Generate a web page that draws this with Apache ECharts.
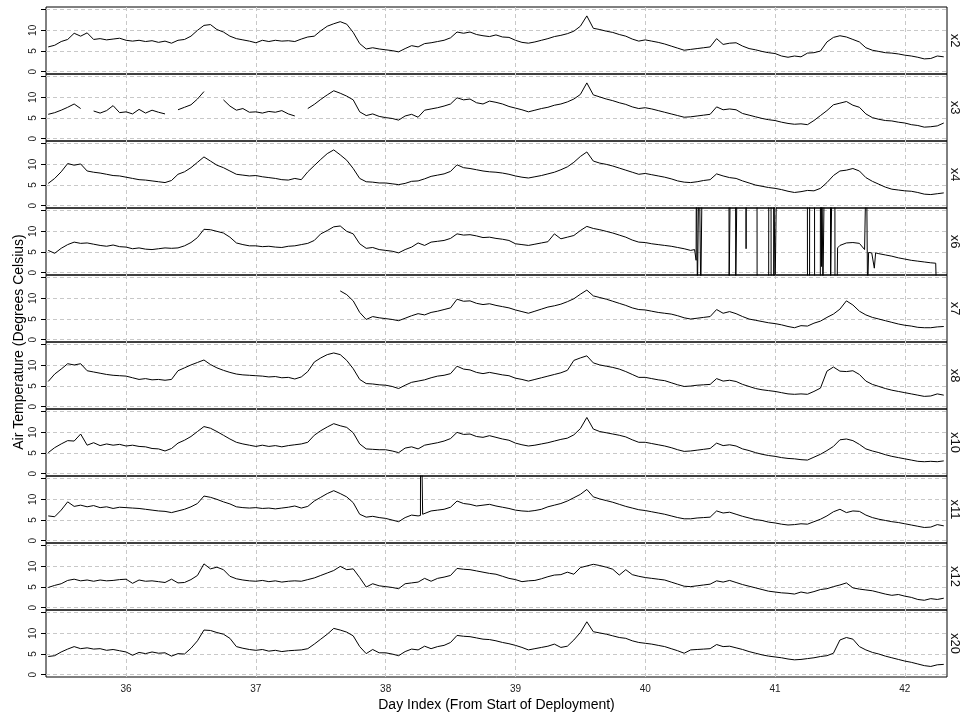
<!DOCTYPE html>
<html><head><meta charset="utf-8">
<script src="https://cdn.jsdelivr.net/npm/echarts@6/dist/echarts.min.js"></script>
<style>html,body{margin:0;padding:0;background:#fff;overflow:hidden}#c{width:961px;height:715px}</style>
</head><body><div id="c"></div>
<script>
// Sample times (day index)
const days = [
35.40,35.45,35.50,35.55,35.60,35.65,35.70,35.75,35.80,35.85,35.90,35.95,
36.00,36.05,36.10,36.15,36.20,36.25,36.30,36.35,36.40,36.45,36.50,36.55,36.60,36.65,36.70,36.75,36.80,36.85,36.90,36.95,
37.00,37.05,37.10,37.15,37.20,37.25,37.30,37.35,37.40,37.45,37.50,37.55,37.60,37.65,37.70,37.75,37.80,37.85,37.90,37.95,
38.00,38.05,38.10,38.15,38.20,38.25,38.30,38.35,38.40,38.45,38.50,38.55,38.60,38.65,38.70,38.75,38.80,38.85,38.90,38.95,
39.00,39.05,39.10,39.15,39.20,39.25,39.30,39.35,39.40,39.45,39.50,39.55,39.60,39.65,39.70,39.75,39.80,39.85,39.90,39.95,
40.00,40.05,40.10,40.15,40.20,40.25,40.30,40.35,40.40,40.45,40.50,40.55,40.60,40.65,40.70,40.75,40.80,40.85,40.90,40.95,
41.00,41.05,41.10,41.15,41.20,41.25,41.30,41.35,41.40,41.45,41.50,41.55,41.60,41.65,41.70,41.75,41.80,41.85,41.90,41.95,
42.00,42.05,42.10,42.15,42.20,42.25,42.30];

const x2 = [
6.0,6.4,7.3,7.8,9.3,8.6,9.4,7.8,8.0,7.7,7.9,8.1,
7.6,7.4,7.6,7.3,7.5,7.1,7.4,6.9,7.6,7.8,8.6,10.0,11.2,11.4,10.2,9.6,8.6,8.0,7.7,7.4,
7.0,7.6,7.3,7.6,7.4,7.5,7.3,7.9,8.4,8.6,9.9,11.0,11.6,12.1,11.5,9.5,6.8,5.5,5.8,5.5,
5.3,5.1,4.8,5.6,6.3,6.0,6.8,7.0,7.3,7.6,8.2,9.6,9.3,9.6,9.0,8.7,8.5,8.9,8.4,8.3,
7.6,7.1,6.9,7.2,7.6,8.0,8.5,8.8,9.2,9.8,11.0,13.5,10.5,10.2,9.8,9.5,9.0,8.6,7.9,7.4,
7.7,7.4,7.1,6.7,6.2,5.7,5.2,5.4,5.6,5.8,6.0,8.0,6.6,6.9,7.0,6.2,5.6,5.3,4.9,4.6,
4.4,3.8,3.5,3.8,3.6,4.5,4.6,5.0,7.2,8.3,8.7,8.4,7.8,7.2,5.8,5.2,4.9,4.6,4.5,4.3,
4.0,3.8,3.5,3.1,3.2,3.8,3.6];

const x3 = [
5.9,6.3,6.9,7.6,8.4,7.3,null,6.7,6.2,6.8,8.0,6.3,
6.5,6.0,7.1,6.2,6.9,6.4,6.0,null,7.0,7.6,8.2,9.6,11.4,null,null,9.4,7.9,6.9,7.3,6.4,
6.5,6.2,6.6,6.4,6.8,6.0,5.5,null,7.3,8.3,9.5,10.6,11.6,11.0,10.3,9.4,6.5,5.6,6.0,5.4,
5.1,4.9,4.5,5.5,5.9,5.2,6.9,7.2,7.5,7.9,8.4,9.9,9.4,9.6,8.7,8.4,9.1,8.8,8.4,7.8,
7.4,7.0,6.5,6.9,7.3,7.6,8.1,8.4,8.9,9.6,10.7,13.5,10.6,10.1,9.6,9.2,8.7,8.3,7.7,7.3,
7.5,7.2,6.8,6.4,6.0,5.6,5.2,5.3,5.5,5.7,5.9,7.7,7.0,7.2,7.0,6.1,5.7,5.3,4.9,4.6,
4.4,4.0,3.7,3.5,3.6,3.4,4.4,5.6,6.8,8.2,8.6,9.0,8.1,7.6,6.0,5.1,4.7,4.4,4.3,4.0,
3.8,3.4,3.2,2.8,2.9,3.1,3.8];

const x4 = [
5.4,6.6,8.2,10.2,9.8,10.1,8.4,8.1,7.9,7.6,7.3,7.2,
6.9,6.6,6.3,6.2,6.0,5.8,5.6,6.1,7.6,8.2,9.2,10.5,11.8,10.8,9.8,9.2,8.4,7.6,7.4,7.2,
7.3,7.0,6.8,6.6,6.3,6.2,6.6,6.3,8.2,9.7,11.2,12.6,13.5,12.3,11.0,9.0,6.6,5.8,5.7,5.5,
5.5,5.3,5.1,5.4,5.9,6.0,6.5,7.1,7.4,7.7,8.3,9.9,9.2,9.0,8.7,8.4,8.2,8.1,7.9,7.6,
7.2,6.9,6.7,7.0,7.3,7.7,8.1,8.7,9.4,10.5,11.9,13.0,10.8,10.3,10.0,9.6,9.1,8.6,8.1,7.6,
7.8,7.5,7.2,6.9,6.5,6.0,5.7,5.6,5.8,6.1,6.3,7.7,7.2,6.8,6.6,6.0,5.5,5.0,4.7,4.4,
4.2,3.9,3.5,3.2,3.4,3.7,3.6,4.2,5.6,7.3,8.4,8.6,9.0,8.4,6.8,5.9,5.2,4.5,4.0,3.8,
3.6,3.5,3.2,2.8,2.7,2.9,3.1];

const x6 = [
5.4,4.7,5.9,6.8,7.4,7.1,7.2,6.9,6.6,6.4,6.7,6.3,
6.2,5.8,6.0,5.7,5.6,5.8,6.0,5.9,6.0,6.5,7.3,8.5,10.5,10.4,10.0,9.6,8.6,7.2,6.8,6.5,
6.5,6.3,6.4,6.2,6.1,6.4,6.5,6.8,7.1,7.8,9.4,10.2,11.1,11.3,10.0,9.4,7.0,5.9,6.1,5.6,
5.4,5.2,4.8,5.6,6.2,7.2,6.6,7.4,7.6,7.8,8.3,9.4,9.1,9.2,8.9,8.5,8.6,8.3,8.1,7.8,
7.0,6.8,6.6,6.9,7.2,7.5,9.4,8.2,8.6,9.0,10.2,11.2,10.7,10.4,10.0,9.6,9.1,8.6,7.9,7.4,
7.3,7.0,6.8,6.6,6.4,6.1,5.8,5.4,null,null,null,null,null,null,null,null,null,null,null,null,
null,null,null,null,null,null,null,null,null,null,6.6,7.2,7.3,7.1,null,null,4.6,4.3,4.0,3.6,
3.3,3.0,2.8,2.6,2.4,-5,-5];
// x6 sensor fault readings (off-scale highs / lows)
const x6FaultDays = [40.380,40.392,40.394,40.401,40.402,40.414,40.415,40.427,40.428,40.440,40.441,40.645,40.646,40.657,40.658,40.696,40.697,40.709,40.710,40.776,40.777,40.778,40.861,40.862,40.951,40.952,40.969,40.970,40.989,40.990,40.999,41.000,41.014,41.015,41.249,41.250,41.266,41.267,41.304,41.305,41.349,41.350,41.356,41.358,41.360,41.368,41.369,41.381,41.382,41.427,41.428,41.440,41.441,41.461,41.462,41.478,41.482,41.690,41.704,41.712,41.713,41.718,41.721,41.745,41.765,41.775,42.238,42.244];
const x6FaultVals = [5.6,3.0,30,30,-5,-5,30,30,-5,-5,30,30,-5,-5,30,30,-5,-5,30,30,5.8,30,30,-5,-5,30,30,-5,-5,30,30,-5,-5,30,30,-5,-5,30,30,-5,-5,30,30,1.5,30,30,-5,-5,30,30,-5,-5,30,30,-5,-5,6.0,5.6,30,30,-5,-5,4.9,4.8,1.1,4.8,2.3,-5];

const x7 = [
null,null,null,null,null,null,null,null,null,null,null,null,
null,null,null,null,null,null,null,null,null,null,null,null,null,null,null,null,null,null,null,null,
null,null,null,null,null,null,null,null,null,null,null,null,null,11.8,10.9,9.4,6.6,4.9,5.6,5.3,
5.1,4.9,4.6,5.2,5.8,6.3,6.0,6.6,6.9,7.3,7.7,9.8,9.3,9.4,8.8,8.5,8.7,8.3,8.0,7.7,
7.2,6.8,6.4,6.9,7.4,7.9,8.2,8.6,9.2,9.9,11.0,12.0,10.6,10.2,9.8,9.3,8.8,8.3,7.7,7.3,
7.2,6.9,6.6,6.4,6.2,5.8,5.3,5.0,5.2,5.4,5.6,7.3,6.4,6.8,6.3,5.6,5.0,4.7,4.4,4.1,
3.9,3.6,3.2,2.9,3.4,3.3,4.0,4.5,5.4,6.2,7.4,9.4,8.4,6.9,6.0,5.4,5.0,4.6,4.2,3.8,
3.5,3.3,3.0,2.9,2.9,3.1,3.2];

const x8 = [
6.1,7.9,9.1,10.4,10.1,10.4,8.7,8.4,8.1,7.8,7.6,7.5,
7.4,7.0,6.6,6.8,6.5,6.6,6.4,6.6,8.7,9.4,10.1,10.7,11.3,10.2,9.4,8.8,8.3,7.9,7.7,7.6,
7.5,7.4,7.2,7.3,7.0,7.1,6.7,7.2,8.5,10.8,11.8,12.6,13.0,12.6,11.2,9.2,6.6,5.6,5.5,5.3,
5.2,4.9,4.4,5.2,5.9,6.2,6.5,7.0,7.4,7.6,8.0,9.8,9.1,8.9,8.3,8.0,8.3,8.0,7.7,7.5,
6.9,6.6,6.2,6.6,7.0,7.4,7.8,8.2,8.8,11.2,11.8,12.3,10.6,10.1,9.8,9.5,9.1,8.5,7.8,7.1,
7.1,6.8,6.5,6.3,5.8,5.3,4.9,5.0,5.2,5.3,5.4,6.8,6.2,6.4,6.1,5.4,4.9,4.4,4.1,3.9,
3.7,3.4,3.1,3.0,3.1,3.0,3.7,4.5,8.6,9.6,8.6,8.5,8.7,7.8,6.2,5.4,4.9,4.4,4.0,3.7,
3.4,3.1,2.8,2.5,2.6,3.1,2.8];

const x10 = [
5.1,6.3,7.2,8.0,7.9,9.6,6.9,7.5,6.8,7.2,6.9,7.1,
6.7,6.9,6.6,6.5,6.1,6.0,5.5,6.1,7.4,8.1,9.0,10.2,11.4,11.0,10.2,9.3,8.4,7.6,7.2,6.9,
6.6,6.9,6.6,6.8,6.5,6.8,7.0,7.2,7.6,9.3,10.4,11.3,12.1,11.6,11.2,9.9,7.2,6.0,5.9,5.8,
5.8,5.5,5.1,6.2,6.5,6.0,6.9,7.2,7.5,7.9,8.5,10.0,9.5,9.6,9.0,8.8,9.2,8.8,8.4,8.1,
7.4,7.0,6.7,6.9,7.2,7.5,7.9,8.3,8.6,9.4,10.9,13.6,10.8,10.2,9.9,9.6,9.3,8.9,8.2,7.6,
7.6,7.3,7.0,6.7,6.3,5.8,5.4,5.5,5.7,5.9,6.1,7.4,6.8,7.0,6.7,6.0,5.6,5.1,4.7,4.4,
4.2,3.9,3.7,3.6,3.4,3.3,4.0,4.7,5.6,6.6,8.2,8.4,8.0,7.1,6.0,5.5,5.1,4.6,4.2,3.9,
3.6,3.3,3.0,2.9,3.0,2.9,3.1];

const x11 = [
6.0,5.8,7.4,9.4,8.3,8.6,8.2,8.5,8.0,8.2,7.8,8.1,
8.0,7.9,7.8,7.6,7.4,7.2,7.1,6.8,7.2,7.6,8.2,9.0,10.8,10.5,10.0,9.4,8.9,8.2,8.0,7.9,
8.0,7.8,7.9,7.7,7.9,8.1,8.4,7.9,8.3,9.6,10.5,11.4,12.1,11.4,10.6,9.2,6.4,5.7,5.9,5.6,
5.4,5.0,4.6,5.6,6.2,6.0,6.7,7.2,7.4,7.6,8.1,9.6,9.0,8.8,8.4,8.6,8.8,8.4,8.1,7.8,
7.4,7.2,7.1,7.3,7.6,8.2,8.6,9.0,9.6,10.4,11.2,12.4,10.6,10.1,9.7,9.3,8.8,8.3,7.9,7.5,
7.3,7.0,6.7,6.4,6.0,5.6,5.3,5.3,5.5,5.6,5.7,7.2,6.7,6.9,6.4,5.9,5.5,5.1,4.9,4.5,
4.3,4.0,3.8,3.9,4.1,4.0,4.6,5.2,6.0,7.0,7.6,6.8,7.2,7.1,6.2,5.6,5.2,4.9,4.6,4.4,
4.1,3.8,3.5,3.2,3.3,3.9,3.6];
const x11SpikeDays = [38.268,38.270,38.283,38.285];
const x11SpikeVals = [6.1,40,40,6.4];

const x12 = [
4.9,5.4,5.8,6.6,6.9,6.5,6.7,6.4,6.7,6.5,6.6,6.8,
6.9,5.9,6.7,6.4,6.5,6.3,6.1,6.9,6.0,6.1,6.8,7.8,10.6,9.4,9.8,9.2,7.6,7.0,6.7,6.5,
6.4,6.6,6.3,6.5,6.2,6.4,6.5,6.4,6.8,7.2,7.8,8.4,9.0,10.0,9.2,9.4,7.3,5.0,5.8,5.3,
5.1,4.9,4.6,5.8,6.0,6.2,7.1,6.4,7.1,7.4,7.8,9.5,9.3,9.2,8.9,8.6,8.3,8.1,7.6,7.1,
6.8,6.3,6.5,6.6,7.0,7.5,7.9,8.0,8.6,8.1,9.7,10.1,10.5,10.2,9.8,9.3,7.9,9.2,8.0,7.6,
7.3,7.1,6.9,6.7,6.2,5.7,5.2,5.1,5.3,5.5,5.7,6.5,6.2,6.6,6.1,5.6,5.2,4.8,4.4,4.0,
3.8,3.6,3.5,3.3,3.8,3.5,3.9,4.4,4.6,5.1,5.5,6.0,4.8,4.5,4.3,4.1,3.7,3.3,3.0,3.2,
2.8,2.5,2.0,1.8,2.2,2.0,2.3];

const x20 = [
4.4,4.6,5.5,6.2,6.8,6.3,6.5,6.2,6.3,5.9,6.1,5.8,
5.5,4.7,5.4,5.1,5.5,5.2,5.3,4.5,5.1,5.0,6.4,8.2,10.8,10.7,10.2,9.8,8.8,6.8,6.4,6.1,
5.9,6.1,5.7,5.9,5.6,5.8,5.9,6.0,6.3,7.4,8.6,9.8,11.2,10.8,10.3,9.4,6.8,5.1,6.1,5.3,
5.3,5.0,4.6,5.6,6.2,6.0,6.9,6.3,6.8,7.1,7.8,9.5,9.3,9.2,8.9,8.6,8.5,8.2,7.8,7.5,
7.1,6.6,6.0,6.3,6.6,6.9,7.4,6.6,6.9,8.4,10.2,12.8,10.4,10.1,9.8,9.4,9.0,8.8,8.2,7.8,
7.6,7.4,7.1,6.8,6.3,5.8,5.2,6.0,6.1,6.2,6.3,7.3,6.8,6.9,6.5,6.1,5.6,5.2,4.8,4.5,
4.3,4.1,3.8,3.6,3.7,3.9,4.1,4.4,4.6,5.2,8.4,9.0,8.6,6.8,6.0,5.4,5.0,4.5,4.1,3.7,
3.3,3.0,2.6,2.2,2.0,2.4,2.5];

const panelNames = ['x2','x3','x4','x6','x7','x8','x10','x11','x12','x20'];
const xTicks = [36,37,38,39,40,41,42];
const yTicks = [0,5,10,15];
const yTickLabels = [0,5,10];
const xTitle = 'Day Index (From Start of Deployment)';
const yTitle = 'Air Temperature (Degrees Celsius)';

function toPairs(vals){ return days.map((d,i)=>[d, vals[i]==null ? '-' : vals[i]]); }
function merged(vals, exDays, exVals){
  const pts = [];
  days.forEach((d,i)=>{ if(vals[i]!=null) pts.push([d, vals[i]]); });
  exDays.forEach((d,i)=>pts.push([d, exVals[i]]));
  pts.sort((a,b)=>a[0]-b[0]);
  return pts;
}
const seriesData = [
  toPairs(x2), toPairs(x3), toPairs(x4),
  merged(x6, x6FaultDays, x6FaultVals),
  toPairs(x7), toPairs(x8), toPairs(x10),
  merged(x11, x11SpikeDays, x11SpikeVals),
  toPairs(x12), toPairs(x20)
];

const chart = echarts.init(document.getElementById('c'));
const P = {top:7, h:67, left:46, right:14};
const xMin = 35.383, xMax = 42.325, yMin = -0.55, yMax = 15.65;
const grids=[], xAxes=[], yAxes=[], series=[], rightAxes=[];
const n = panelNames.length;
panelNames.forEach((name,i)=>{
  const bottom = i===n-1;
  grids.push({left:P.left, right:P.right, top:P.top+i*P.h, height:P.h, show:true, borderColor:'#000', borderWidth:1, backgroundColor:'transparent', containLabel:false, outerBoundsMode:'none'});
  xAxes.push({type:'value', gridIndex:i, min:xMin, max:xMax,
    axisLine:{show:false},
    axisTick:{show:false, customValues:xTicks},
    axisLabel:{show:bottom, customValues:xTicks, fontSize:10, color:'#222', margin:7},
    splitLine:{show:true, lineStyle:{color:'#c8c8c8', width:1, type:[4,3]}}});
  yAxes.push({type:'value', gridIndex:i, min:yMin, max:yMax,
    axisLine:{show:false},
    axisTick:{show:true, customValues:yTicks, length:5, lineStyle:{color:'#000'}},
    axisLabel:{show:true, customValues:yTickLabels, rotate:90, fontSize:10, color:'#222', margin:8},
    splitLine:{show:true, lineStyle:{color:'#c8c8c8', width:1, type:[4,3]}}});
  rightAxes.push({type:'value', gridIndex:i, position:'right', min:yMin, max:yMax,
    name:name, nameLocation:'middle', nameRotate:-90, nameGap:1,
    nameTextStyle:{fontSize:13, color:'#111'},
    axisLine:{show:false}, axisTick:{show:false}, axisLabel:{show:false}, splitLine:{show:false}});
  series.push({type:'line', xAxisIndex:i, yAxisIndex:i, data:seriesData[i],
    showSymbol:false, symbol:'none', clip:true, connectNulls:false,
    lineStyle:{color:'#000', width:1}, animation:false});
});
grids.push({left:P.left, right:P.right, top:P.top, height:P.h*n, show:false, containLabel:false, outerBoundsMode:'none'});
xAxes.push({type:'value', gridIndex:n, min:0, max:1, name:xTitle, nameLocation:'middle', nameGap:21,
  nameTextStyle:{fontSize:14, color:'#000'},
  axisLine:{show:false}, axisTick:{show:false}, axisLabel:{show:false}, splitLine:{show:false}});
const allY = yAxes.concat(rightAxes);
allY.push({type:'value', gridIndex:n, min:0, max:1, name:yTitle, nameLocation:'middle', nameGap:20,
  nameTextStyle:{fontSize:14, color:'#000'},
  axisLine:{show:false}, axisTick:{show:false}, axisLabel:{show:false}, splitLine:{show:false}});

chart.setOption({
  animation:false,
  textStyle:{fontFamily:'"Liberation Sans", Arial, Helvetica, sans-serif'},
  grid:grids, xAxis:xAxes, yAxis:allY, series:series
});
</script>
</body></html>
